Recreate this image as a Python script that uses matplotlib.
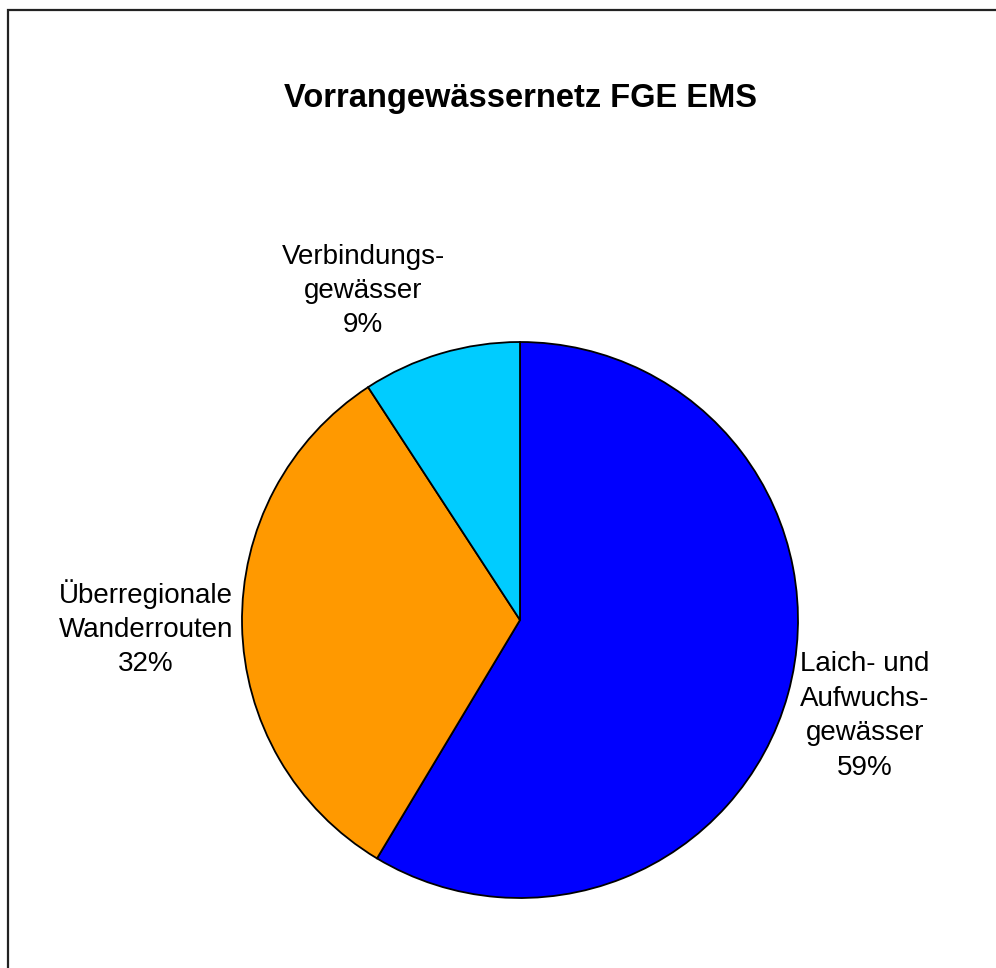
import matplotlib.pyplot as plt
from matplotlib.patches import Rectangle

plt.rcParams['font.family'] = ['Liberation Sans', 'DejaVu Sans']

labels = ['Laich- und\nAufwuchs-\ngewässer', 'Überregionale\nWanderrouten', 'Verbindungs-\ngewässer']
shares = [58.6, 32.2, 9.2]
colors = ['#0000FF', '#FF9900', '#00CCFF']
# label block centres in pixel coords (x, y from top)
label_pos = [(865, 716), (146, 628), (363, 291)]

W, H = 996, 968
fig = plt.figure(figsize=(W / 100, H / 100), dpi=100)
ax = fig.add_axes([0, 0, 1, 1])
ax.axis('off')

ax.pie(shares, colors=colors, startangle=90, counterclock=False,
       center=(520, H - 620), radius=278,
       wedgeprops=dict(edgecolor='black', linewidth=1.3))
ax.set_xlim(0, W)
ax.set_ylim(0, H)
ax.set_aspect('equal')

for lab, val, (x, y) in zip(labels, shares, label_pos):
    ax.text(x, H - y, f'{lab}\n{round(val)}%', ha='center', va='center',
            multialignment='center', fontsize=20, linespacing=1.42)

ax.text(521, H - 98, 'Vorrangewässernetz FGE EMS', ha='center', va='center',
        fontsize=23.5, fontweight='bold')

ax.add_patch(Rectangle((8, -50), 1100, H - 9.5 + 50, fill=False,
                       edgecolor='#222222', linewidth=1.6, clip_on=False))

fig.savefig('out.png', dpi=100)
